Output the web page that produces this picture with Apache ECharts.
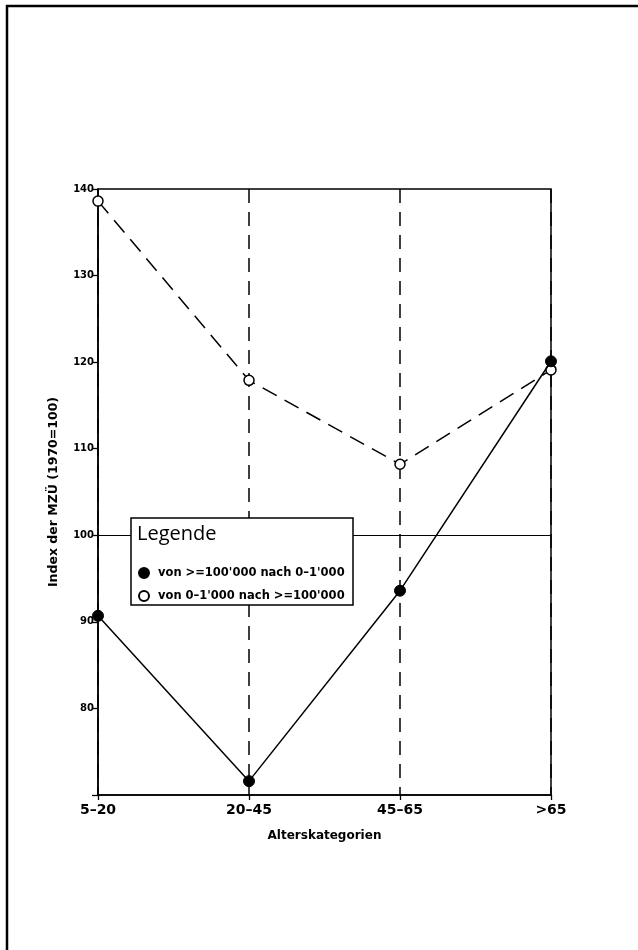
<!DOCTYPE html>
<html>
<head>
<meta charset="utf-8">
<script src="https://cdn.jsdelivr.net/npm/echarts@6/dist/echarts.min.js"></script>
<style>
  html, body { margin: 0; padding: 0; background: #fff; }
  #chart { width: 638px; height: 950px; }
</style>
</head>
<body>
<div id="chart"></div>
<script>
// Alterskategorien und Indexwerte (1970=100)
const categories = ["5–20", "20–45", "45–65", ">65"];
const grossNachKlein = [90.7, 71.6, 93.6, 120.1]; // von >=100'000 nach 0-1'000
const kleinNachGross = [138.6, 117.9, 108.2, 119.1]; // von 0-1'000 nach >=100'000
const seriesNames = ["von >=100'000 nach 0–1'000", "von 0–1'000 nach >=100'000"];
const yTicks = [70, 140, 10]; // min, max, interval

const FONT = "'DejaVu Sans', sans-serif";

const chart = echarts.init(document.getElementById("chart"));

const option = {
  backgroundColor: "#fff",
  animation: false,
  grid: {
    left: 98,
    right: 87,
    top: 189,
    bottom: 155,
    show: true,
    borderColor: "#000",
    borderWidth: 1.5
  },
  xAxis: {
    type: "category",
    data: categories,
    boundaryGap: false,
    name: "Alterskategorien",
    nameLocation: "middle",
    nameGap: 35,
    nameTextStyle: { fontFamily: FONT, fontSize: 12, fontWeight: "bold", color: "#000" },
    axisLine: { lineStyle: { color: "#000", width: 1.5 } },
    axisTick: { show: true, length: 5, alignWithLabel: true, lineStyle: { color: "#000", width: 1.3 } },
    axisLabel: { fontFamily: FONT, fontSize: 14, fontWeight: "bold", color: "#000", margin: 8 },
    splitLine: {
      show: true,
      lineStyle: { color: "#000", width: 1.5, type: [14, 9] }
    }
  },
  yAxis: {
    type: "value",
    min: yTicks[0],
    max: yTicks[1],
    interval: yTicks[2],
    name: "Index der MZÜ (1970=100)",
    nameLocation: "middle",
    nameGap: 38,
    nameTextStyle: { fontFamily: FONT, fontSize: 12.5, fontWeight: "bold", color: "#000" },
    axisLine: { show: true, lineStyle: { color: "#000", width: 1.5 } },
    axisTick: { show: true, length: 6, lineStyle: { color: "#000", width: 1.3 } },
    axisLabel: {
      fontFamily: FONT,
      fontSize: 10,
      fontWeight: "bold",
      color: "#000",
      margin: 4,
      formatter: v => (v === yTicks[0] ? "" : String(v))
    },
    splitLine: { show: false }
  },
  legend: {
    orient: "vertical",
    left: 133,
    top: 562,
    z: 20,
    icon: "circle",
    itemWidth: 10,
    itemHeight: 10,
    itemGap: 11,
    textStyle: { fontFamily: FONT, fontSize: 11.5, fontWeight: "bold", color: "#000", padding: [0, 0, 0, 4] },
    data: seriesNames
  },
  graphic: [
    // Seitenrahmen
    { type: "line", z: 30, shape: { x1: 7, y1: 5, x2: 7, y2: 950 }, style: { stroke: "#000", lineWidth: 2.5 } },
    { type: "line", z: 30, shape: { x1: 6, y1: 6, x2: 638, y2: 6 }, style: { stroke: "#000", lineWidth: 2.5 } },
    // Legendenkasten
    {
      type: "rect",
      z: 10,
      shape: { x: 131, y: 518, width: 222, height: 87 },
      style: { fill: "#fff", stroke: "#000", lineWidth: 1.5 }
    },
    {
      type: "text",
      z: 11,
      left: 137,
      top: 524,
      style: { text: "Legende", fontFamily: "'Open Sans', sans-serif", fontSize: 20, fill: "#000" }
    }
  ],
  series: [
    {
      name: seriesNames[0],
      type: "line",
      data: grossNachKlein,
      symbol: "circle",
      symbolSize: 11,
      itemStyle: { color: "#000", borderColor: "#000", borderWidth: 1 },
      lineStyle: { color: "#000", width: 1.5 },
      z: 5,
      markLine: {
        silent: true,
        symbol: "none",
        label: { show: false },
        lineStyle: { color: "#000", width: 1.2, type: "solid" },
        data: [{ yAxis: 100 }]
      }
    },
    {
      name: seriesNames[1],
      type: "line",
      data: kleinNachGross,
      symbol: "circle",
      symbolSize: 10,
      showAllSymbol: true,
      itemStyle: { color: "#fff", borderColor: "#000", borderWidth: 1.5 },
      lineStyle: { color: "#000", width: 1.5, type: [16, 9] },
      z: 4
    }
  ]
};

chart.setOption(option);
</script>
</body>
</html>
